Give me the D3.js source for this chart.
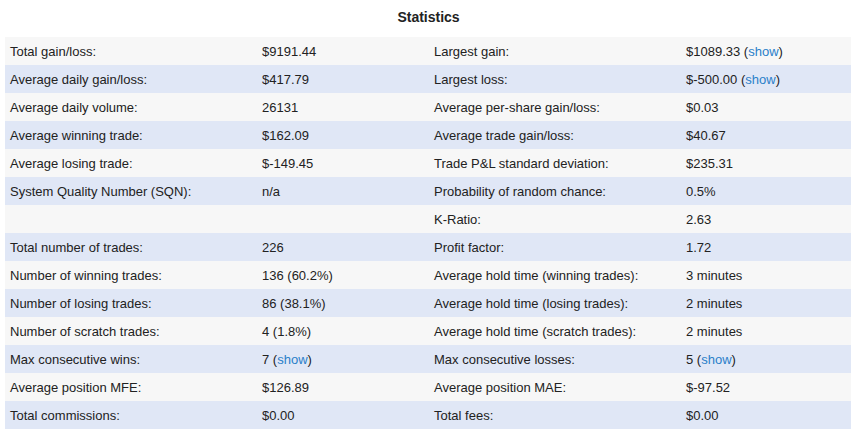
<!DOCTYPE html>
<html><head><meta charset="utf-8">
<script src="https://cdn.jsdelivr.net/npm/d3@7"></script>
<style>body{margin:0;background:#fff;font-family:"Liberation Sans",Arial,sans-serif;}</style>
</head><body><div id="chart"></div>
<script>
var leftLabels = ["Total gain/loss:","Average daily gain/loss:","Average daily volume:","Average winning trade:","Average losing trade:","System Quality Number (SQN):","","Total number of trades:","Number of winning trades:","Number of losing trades:","Number of scratch trades:","Max consecutive wins:","Average position MFE:","Total commissions:"];
var leftValues = ["$9191.44","$417.79","26131","$162.09","$-149.45","n/a","","226","136 (60.2%)","86 (38.1%)","4 (1.8%)","7","$126.89","$0.00"];
var leftShow = [false,false,false,false,false,false,false,false,false,false,false,true,false,false];
var rightLabels = ["Largest gain:","Largest loss:","Average per-share gain/loss:","Average trade gain/loss:","Trade P&L standard deviation:","Probability of random chance:","K-Ratio:","Profit factor:","Average hold time (winning trades):","Average hold time (losing trades):","Average hold time (scratch trades):","Max consecutive losses:","Average position MAE:","Total fees:"];
var rightValues = ["$1089.33","$-500.00","$0.03","$40.67","$235.31","0.5%","2.63","1.72","3 minutes","2 minutes","2 minutes","5","$-97.52","$0.00"];
var rightShow = [true,true,false,false,false,false,false,false,false,false,false,true,false,false];

var W = 857, H = 439;
var svg = d3.select("#chart").append("svg").attr("width", W).attr("height", H);

svg.append("text").text("Statistics")
  .attr("x", W/2).attr("y", 22).attr("text-anchor","middle")
  .style("font-size","14px").style("font-weight","bold").attr("fill","#222");

var y = d3.scaleBand().domain(d3.range(leftLabels.length)).range([37, 429]);
var x = d3.scaleOrdinal().domain(["l","lv","r","rv"]).range([10, 262, 434, 686]);

var rows = svg.selectAll("g.row").data(d3.range(leftLabels.length)).enter()
  .append("g").attr("class","row").attr("transform", function(i){ return "translate(0," + y(i) + ")"; });

rows.append("rect").attr("x",5).attr("width",846).attr("height",y.bandwidth())
  .attr("fill", function(i){ return i % 2 ? "#e0e7f6" : "#f7f7f7"; });

function cell(key, arr, show) {
  var t = rows.append("text").attr("x", x(key)).attr("y", y.bandwidth()/2 + 5)
    .style("font-size","13px").attr("fill","#222");
  t.append("tspan").text(function(i){ return arr[i]; });
  if (show) {
    t.filter(function(i){ return show[i]; }).each(function(){
      var s = d3.select(this);
      s.append("tspan").text(" (");
      s.append("tspan").text("show").attr("fill","#2a7fc9");
      s.append("tspan").text(")");
    });
  }
}
cell("l", leftLabels);
cell("lv", leftValues, leftShow);
cell("r", rightLabels);
cell("rv", rightValues, rightShow);
</script></body></html>
